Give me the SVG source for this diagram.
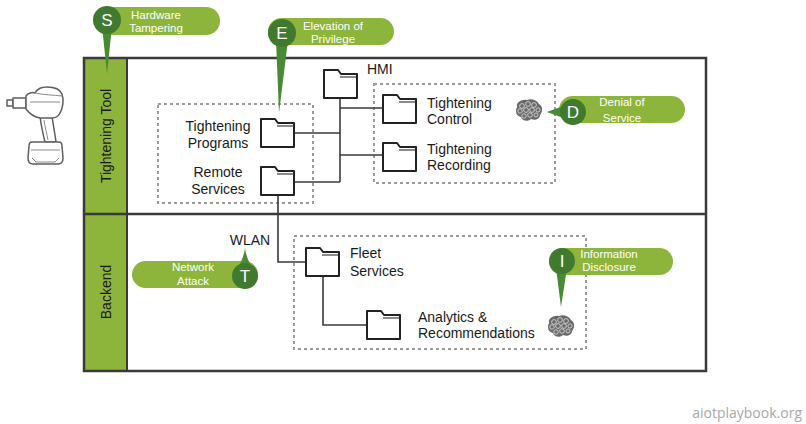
<svg xmlns="http://www.w3.org/2000/svg" xmlns:xlink="http://www.w3.org/1999/xlink" width="806" height="424" viewBox="0 0 806 424">
  <style>
    .frame { fill: none; stroke: #3a3a3a; stroke-width: 2.5; }
    .side { fill: #8db43b; stroke: #3a3a3a; stroke-width: 2; }
    .zone { fill: none; stroke: #9a9a9a; stroke-width: 2; stroke-dasharray: 3 3; }
    .wire { fill: none; stroke: #3a3a3a; stroke-width: 1.6; }
    .lbl { font-family: "Liberation Sans", Arial, sans-serif; font-size: 14px; fill: #1a1a1a; }
    .lane { font-family: "Liberation Sans", Arial, sans-serif; font-size: 14px; fill: #1a1a1a; text-anchor: middle; }
    .pill { fill: #8db43b; }
    .badge { fill: #3f7a2f; }
    .spike { fill: #4a8a35; }
    .ctxt { font-family: "Liberation Sans", Arial, sans-serif; font-size: 11.5px; fill: #ffffff; text-anchor: middle; }
    .letter { font-family: "Liberation Sans", Arial, sans-serif; font-size: 17px; fill: #ffffff; text-anchor: middle; }
    .mark { font-family: "Open Sans", "Liberation Sans", sans-serif; font-size: 14px; fill: #a8a8a8; text-anchor: end; }
    .tool { fill: #ffffff; stroke: #5e5e5e; stroke-width: 1.5; stroke-linejoin: round; }
    .detail { fill: none; stroke: #8a8a8a; stroke-width: 1; }
  </style>
  <defs>
    <g id="folder">
      <path d="M1,29 V1 H15 L18,5 H34 V29 Z" fill="#ffffff" stroke="#222" stroke-width="2" stroke-linejoin="round"/>
      <path d="M17,8 H33" stroke="#8a8a8a" stroke-width="2"/>
    </g>
    <g id="brain">
      <path d="M2,8 C1,3 7,0 12,1 C16,-1 22,1 24,5 C28,7 28,13 25,16 C25,20 20,22 16,20 C13,23 7,22 6,18 C1,17 0,12 2,8 Z" fill="#6a6a6a"/>
      <g fill="none" stroke="#d4d4d4" stroke-width="0.9">
        <circle cx="7" cy="7" r="2.4"/><circle cx="13" cy="5" r="2.4"/><circle cx="19" cy="6" r="2.4"/>
        <circle cx="5" cy="12" r="2.2"/><circle cx="11" cy="11" r="2.4"/><circle cx="17" cy="11" r="2.4"/><circle cx="23" cy="11" r="2.1"/>
        <circle cx="9" cy="17" r="2.2"/><circle cx="15" cy="16" r="2.3"/><circle cx="21" cy="16" r="2"/>
      </g>
    </g>
  </defs>

  <!-- cordless tightening tool -->
  <g id="tool-icon">
    <path class="tool" d="M7,100 H13 V106 H7 Z"/>
    <path class="tool" d="M13,98 H26 V108 H13 Z"/>
    <path class="tool" d="M40,116 C41,125 43,134 45,142 L56,142 C55,134 53,124 52,116 Z"/>
    <path class="tool" d="M26,96 C28,93 32,92 35,93 C37,89 42,87 47,87 C54,87 60,89 62,94 C64,100 63,108 60,113 C58,117 55,118 52,118 H40 C34,117 29,113 26,109 Z"/>
    <path class="detail" d="M35,93 C44,95 54,95 62,96 M30,102 H60 M44,120 C45,128 47,134 48,140"/>
    <path class="tool" d="M32,142 H59 C61,142 62,144 62,146 L63,158 C63,162 61,164 58,164 H33 C30,164 28,162 28,158 L29,146 C29,144 30,142 32,142 Z"/>
    <path class="detail" d="M31,150 H60 M32,158 L36,162 H55 L59,158"/>
  </g>

  <!-- swimlane frame -->
  <g id="lanes">
    <rect class="side" x="84" y="58" width="43" height="156"/>
    <rect class="side" x="84" y="214" width="43" height="157"/>
    <rect class="frame" x="84" y="58" width="622" height="313"/>
    <line class="frame" x1="84" y1="214" x2="706" y2="214"/>
    <text class="lane" transform="translate(111,136) rotate(-90)">Tightening Tool</text>
    <text class="lane" transform="translate(111,292) rotate(-90)">Backend</text>
  </g>

  <!-- dashed grouping zones -->
  <g id="zones">
    <rect class="zone" x="158" y="104" width="155" height="99"/>
    <rect class="zone" x="374" y="84" width="181" height="99"/>
    <rect class="zone" x="294" y="236" width="292" height="113"/>
  </g>

  <!-- connectors -->
  <g id="connectors">
    <path class="wire" d="M340,99 V182"/>
    <path class="wire" d="M295,133 H340"/>
    <path class="wire" d="M295,182 H340"/>
    <path class="wire" d="M340,108 H382"/>
    <path class="wire" d="M340,155 H382"/>
    <path class="wire" d="M278,195 V262 H305"/>
    <path class="wire" d="M323,277 V325 H366"/>
  </g>

  <!-- nodes -->
  <g id="tightening-programs">
    <use xlink:href="#folder" x="260" y="118"/>
    <text class="lbl" x="218" y="131" text-anchor="middle">Tightening</text>
    <text class="lbl" x="218" y="148" text-anchor="middle">Programs</text>
  </g>
  <g id="remote-services">
    <use xlink:href="#folder" x="260" y="166"/>
    <text class="lbl" x="218" y="177" text-anchor="middle">Remote</text>
    <text class="lbl" x="218" y="194" text-anchor="middle">Services</text>
  </g>
  <g id="hmi">
    <use xlink:href="#folder" x="323" y="69"/>
    <text class="lbl" x="367" y="74">HMI</text>
  </g>
  <g id="tightening-control">
    <use xlink:href="#folder" x="382" y="94"/>
    <text class="lbl" x="427" y="108">Tightening</text>
    <text class="lbl" x="427" y="124">Control</text>
    <use xlink:href="#brain" x="515" y="99"/>
  </g>
  <g id="tightening-recording">
    <use xlink:href="#folder" x="382" y="142"/>
    <text class="lbl" x="427" y="154">Tightening</text>
    <text class="lbl" x="427" y="170">Recording</text>
  </g>
  <g id="wlan">
    <text class="lbl" x="250" y="245" text-anchor="middle">WLAN</text>
  </g>
  <g id="fleet-services">
    <use xlink:href="#folder" x="305" y="247"/>
    <text class="lbl" x="350" y="258">Fleet</text>
    <text class="lbl" x="350" y="276">Services</text>
  </g>
  <g id="analytics">
    <use xlink:href="#folder" x="366" y="310"/>
    <text class="lbl" x="418" y="322">Analytics &amp;</text>
    <text class="lbl" x="418" y="338">Recommendations</text>
    <use xlink:href="#brain" x="547" y="315"/>
  </g>

  <!-- STRIDE threat callouts -->
  <g id="threat-s">
    <rect class="pill" x="94" y="7" width="126" height="28" rx="14"/>
    <polygon class="spike" points="102,26 112,26 107,74"/>
    <circle class="badge" cx="107" cy="20" r="14"/>
    <text class="letter" x="107" y="26">S</text>
    <text class="ctxt" x="156" y="19">Hardware</text>
    <text class="ctxt" x="156" y="32">Tampering</text>
  </g>
  <g id="threat-e">
    <rect class="pill" x="268" y="18" width="126" height="27" rx="13.5"/>
    <polygon class="spike" points="276,40 288,40 279,113"/>
    <circle class="badge" cx="282" cy="33" r="14"/>
    <text class="letter" x="282" y="39">E</text>
    <text class="ctxt" x="333" y="30">Elevation of</text>
    <text class="ctxt" x="333" y="43">Privilege</text>
  </g>
  <g id="threat-d">
    <rect class="pill" x="559" y="96" width="126" height="27" rx="13.5"/>
    <polygon class="spike" points="566,105 566,119 547,112"/>
    <circle class="badge" cx="573" cy="112" r="13"/>
    <text class="letter" x="573" y="118">D</text>
    <text class="ctxt" x="622" y="106">Denial of</text>
    <text class="ctxt" x="622" y="122">Service</text>
  </g>
  <g id="threat-t">
    <rect class="pill" x="132" y="261" width="126" height="27" rx="13.5"/>
    <path class="spike" d="M238,268 C241,262 244,256 245,248 C246,256 249,262 252,268 Z"/>
    <circle class="badge" cx="245" cy="276" r="13"/>
    <text class="letter" x="245" y="282">T</text>
    <text class="ctxt" x="193" y="271">Network</text>
    <text class="ctxt" x="193" y="285">Attack</text>
  </g>
  <g id="threat-i">
    <rect class="pill" x="549" y="248" width="124" height="27" rx="13.5"/>
    <polygon class="spike" points="556,268 567,268 561,307"/>
    <circle class="badge" cx="562" cy="261" r="13"/>
    <text class="letter" x="562" y="267">I</text>
    <text class="ctxt" x="609" y="258">Information</text>
    <text class="ctxt" x="609" y="271">Disclosure</text>
  </g>

  <text class="mark" x="802" y="418">aiotplaybook.org</text>
</svg>
